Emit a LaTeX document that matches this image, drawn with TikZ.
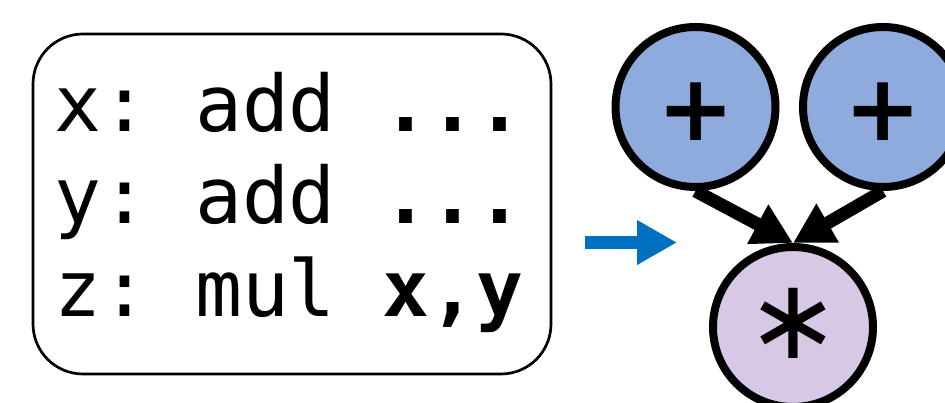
\documentclass[tikz,border=0pt]{standalone}
\usepackage{fontspec}
\setmonofont{DejaVu Sans Mono}
\newfontfamily\opfont{DejaVu Sans}
\usetikzlibrary{arrows.meta}
\definecolor{addblue}{HTML}{8FAADC}
\definecolor{mulpurple}{HTML}{D7C8E5}
\definecolor{arrowblue}{HTML}{0070C0}
\begin{document}
\begin{tikzpicture}[x=1pt,y=1pt,
  codebox/.style={draw, line width=2.7pt, rounded corners=50pt, minimum width=518pt, minimum height=340pt, inner sep=0pt},
  codeline/.style={anchor=base west, inner sep=0pt, font=\ttfamily\fontsize{78}{92}\selectfont},
  opnode/.style={circle, draw, line width=8pt, minimum size=160pt, inner sep=0pt},
  plustext/.style={anchor=north, inner sep=0pt, font=\opfont\bfseries\fontsize{92}{92}\selectfont},
  startext/.style={anchor=center, inner sep=0pt, font=\opfont\fontsize{112}{112}\selectfont},
  edgearrow/.style={line width=13pt, -{Triangle[length=40pt,width=42pt]}},
  flowarrow/.style={arrowblue, line width=13.5pt, -{Triangle[length=40pt,width=42pt]}}
]
\useasboundingbox (0,0) rectangle (945,403);
\clip (0,0) rectangle (945,403);
% code box
\node[codebox] (code) at (292,199) {};
\node[codeline] (l1) at (54,271.3) {x: add \textbf{...}};
\node[codeline] (l2) at (54,179.7) {y: add \textbf{...}};
\node[codeline] (l3) at (54,86.3) {z: mul \textbf{x,y}};
% flow arrow
\coordinate (fs) at (585,160.5);
\coordinate (ft) at (677,160.5);
\draw[flowarrow] (fs) -- (ft);
% graph
\node[opnode, fill=addblue] (a1) at (695.5,296) {};
\node[opnode, fill=addblue] (a2) at (883,296) {};
\node[opnode, fill=mulpurple] (m) at (793,76) {};
\node[plustext] (p1) at (696,320) {+};
\node[plustext] (p2) at (883,320) {+};
\node[startext] (s) at (793,80) {∗};
\draw[edgearrow] (a1.south) -- (m.north);
\draw[edgearrow] (a2.south) -- (m.north);
\end{tikzpicture}
\end{document}
